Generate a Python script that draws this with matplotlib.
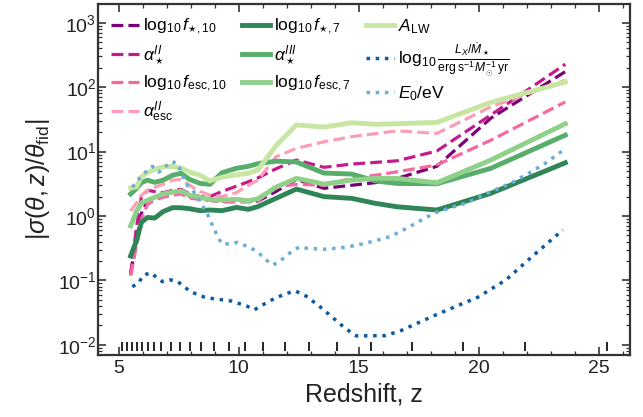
import numpy as np
import matplotlib
matplotlib.use('Agg')
import matplotlib.pyplot as plt
from matplotlib.ticker import MultipleLocator

plt.rcParams['font.family'] = ['Liberation Sans', 'DejaVu Sans']
plt.rcParams['mathtext.fontset'] = 'custom'
plt.rcParams['mathtext.rm'] = 'Liberation Sans'
plt.rcParams['mathtext.it'] = 'Liberation Sans:italic'
plt.rcParams['mathtext.bf'] = 'Liberation Sans:bold'

# redshift grid shared by the solid / dashed curves
z = [5.5, 5.75, 5.95, 6.2, 6.5, 6.85, 7.25, 7.6, 7.95, 8.4, 8.8, 9.3, 9.9,
     10.4, 10.8, 11.55, 12.4, 13.55, 14.7, 15.7, 16.6, 18.25, 20.5, 23.6]

fstar10 = [0.13, 0.45, 1.1, 1.7, 1.9, 2.0, 2.2, 2.4, 2.0, 1.85, 1.75, 1.7, 1.8,
           1.75, 1.7, 2.4, 3.7, 2.69, 3.0, 3.3, 3.84, 5.9, 33, 174]
alpha_star2 = [0.12, 0.7, 2.0, 2.5, 2.4, 2.3, 2.5, 2.6, 2.2, 2.0, 2.0, 2.4, 2.9,
               3.4, 3.9, 5.4, 7.4, 5.7, 6.4, 6.8, 7.2, 10.2, 37, 227]
fesc10 = [0.12, 0.35, 0.9, 1.5, 1.8, 1.95, 2.1, 2.2, 1.9, 1.8, 1.75, 1.65, 1.65,
          1.65, 1.7, 2.85, 3.1, 3.0, 3.84, 4.3, 4.86, 6.2, 15, 59]
alpha_esc = [1.2, 1.6, 2.1, 2.5, 2.8, 3.1, 3.6, 3.7, 3.0, 2.4, 2.1, 2.0, 2.3,
             3.0, 3.6, 8.3, 11.2, 14.2, 17, 19, 21, 19.1, 49.5, 128]
fstar7 = [0.24, 0.42, 0.8, 0.95, 0.93, 1.17, 1.35, 1.34, 1.3, 1.21, 1.24, 1.21, 1.36,
          1.27, 1.4, 1.88, 2.62, 2.0, 1.88, 1.57, 1.39, 1.24, 2.25, 6.7]
alpha_star3 = [2.2, 2.7, 3.3, 3.6, 3.33, 3.6, 4.3, 4.6, 3.7, 3.2, 3.1, 4.7, 5.5,
               5.9, 6.5, 7.1, 6.9, 4.64, 4.48, 3.5, 3.2, 3.17, 5.5, 18]
fesc7 = [0.7, 1.2, 1.6, 1.75, 1.95, 2.2, 2.35, 2.45, 2.1, 1.95, 1.8, 1.77, 1.82,
         1.72, 1.85, 2.8, 3.84, 3.13, 3.6, 3.84, 3.84, 3.28, 7.4, 27]
A_LW = [2.7, 2.85, 4.07, 4.7, 5.3, 5.8, 5.9, 5.6, 4.8, 4.3, 3.5, 4.0, 4.35,
        4.6, 5.2, 12.3, 26, 24, 28, 26.5, 27, 28.4, 58, 120]

z_LX = [5.57, 5.84, 6.01, 6.32, 6.82, 7.16, 7.46, 7.99, 8.63, 9.69, 10.34, 10.65, 11.28,
        11.89, 12.35, 12.81, 13.39, 14.44, 14.9, 16.08, 16.73, 18.33, 19.96, 21.13, 22.16, 23.5]
LX = [0.080, 0.092, 0.119, 0.132, 0.096, 0.102, 0.096, 0.067, 0.054, 0.048, 0.040, 0.035, 0.048,
      0.061, 0.069, 0.057, 0.039, 0.018, 0.0138, 0.0139, 0.0165, 0.0306, 0.055, 0.102, 0.225, 0.61]

z_E0 = [5.57, 5.99, 6.41, 6.68, 6.96, 7.24, 7.48, 7.59, 7.89, 8.13, 8.69, 8.98, 9.29, 9.6,
        9.96, 10.28, 10.6, 10.89, 11.14, 11.42, 11.68, 11.96, 12.22, 12.52, 12.86, 13.56,
        14.26, 14.97, 15.65, 16.32, 16.94, 17.57, 18.17, 18.86, 19.52, 20.4, 21.37, 22.07,
        22.72, 23.5]
E0 = [2.8, 4.37, 5.9, 4.8, 5.9, 7.05, 6.3, 4.8, 2.9, 2.38, 1.1, 0.62, 0.37, 0.37,
      0.39, 0.346, 0.305, 0.255, 0.208, 0.174, 0.194, 0.237, 0.284, 0.33, 0.316, 0.305,
      0.32, 0.355, 0.41, 0.48, 0.63, 0.85, 1.12, 1.36, 1.61, 2.3, 3.28, 4.6,
      6.4, 10.4]

# redshifts of the observation bins (rug at the bottom)
z_bins = [5.15, 5.36, 5.57, 5.78, 5.99, 6.21, 6.46, 6.78, 7.16, 7.55, 7.98, 8.45, 8.98,
          9.59, 10.26, 11.03, 11.92, 12.93, 14.09, 15.52, 17.22, 19.33, 21.92, 25.33]

fig = plt.figure(figsize=(6.43, 4.17), dpi=100)
ax = fig.add_axes([0.152, 0.149, 0.828, 0.841])

# dashed: pink family
ax.plot(z, fstar10, ls='--', lw=2.3, color='#7a0177', label=r'$\log_{10}f_{\star,10}$')
ax.plot(z, alpha_star2, ls='--', lw=2.3, color='#c51b8a', label=r'$\alpha_\star^{II}$')
ax.plot(z, fesc10, ls='--', lw=2.3, color='#f768a1', label=r'$\log_{10}f_{\rm esc,10}$')
ax.plot(z, alpha_esc, ls='--', lw=2.3, color='#fa9fb5', label=r'$\alpha_{\rm esc}^{II}$')
# solid: greens
ax.plot(z, fstar7, ls='-', lw=3.5, color='#2e8555', label=r'$\log_{10}f_{\star,7}$')
ax.plot(z, alpha_star3, ls='-', lw=3.5, color='#57ae6b', label=r'$\alpha_\star^{III}$')
ax.plot(z, fesc7, ls='-', lw=3.5, color='#8fd08b', label=r'$\log_{10}f_{\rm esc,7}$')
ax.plot(z, A_LW, ls='-', lw=3.5, color='#c6e6a2', label=r'$A_{\rm LW}$')
# dotted: blues
ax.plot(z_LX, LX, ls=':', lw=2.5, color='#0b5aa6',
        label=r'$\log_{10}\frac{L_X/\dot{M}_\star}{{\rm erg\,s^{-1}}\,M_{\odot}^{-1}\,{\rm yr}}$')
ax.plot(z_E0, E0, ls=':', lw=2.5, color='#6baed6', label=r'$E_0/{\rm eV}$')

ax.vlines(z_bins, 0.011, 0.037, transform=ax.get_xaxis_transform(), color='k', lw=1.2)

ax.set_yscale('log')
ax.set_xlim(4.13, 26.3)
ax.set_ylim(7e-3, 1.94e3)
ax.xaxis.set_major_locator(MultipleLocator(5))
ax.xaxis.set_minor_locator(MultipleLocator(1))

for s in ax.spines.values():
    s.set_linewidth(1.6)
    s.set_color('#333333')
ax.tick_params(which='both', direction='in', top=True, right=True, colors='#333333',
               labelcolor='#222222', labelsize=14)
ax.tick_params(which='major', length=6, width=1.2)
ax.tick_params(which='minor', length=3, width=0.9)
ax.tick_params(axis='y', which='major', pad=1)

ax.set_xlabel('Redshift, z', fontsize=18, color='#222222')
ax.set_ylabel(r'$|\sigma(\theta, z)/\theta_{\rm fid}|$', fontsize=18, color='#222222', labelpad=4)

ax.legend(loc='upper left', ncol=3, frameon=False, fontsize=12.5, handlelength=1.65,
          columnspacing=0.85, handletextpad=0.2, labelspacing=0.35, borderaxespad=0.35)

fig.savefig('out.png', dpi=100)
